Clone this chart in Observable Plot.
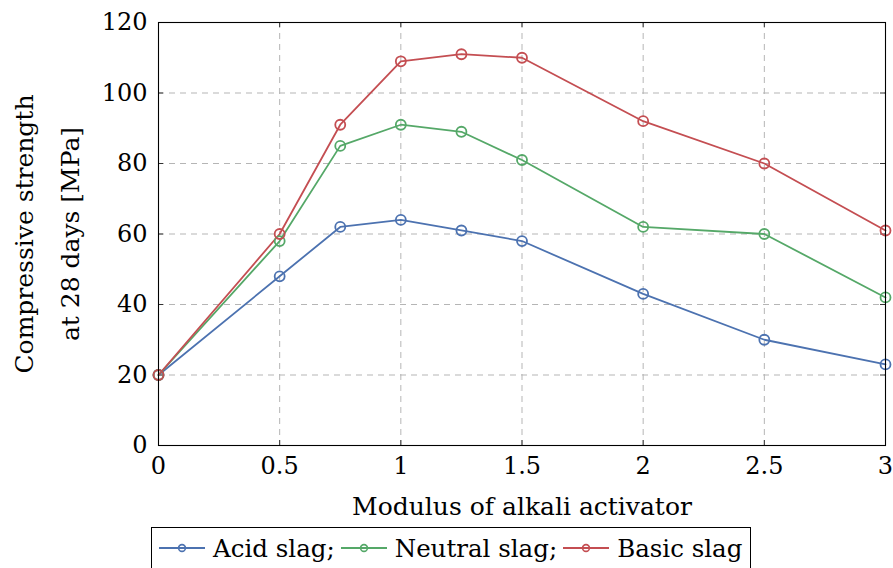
<!DOCTYPE html>
<html>
<head>
<meta charset="utf-8">
<script src="https://cdn.jsdelivr.net/npm/d3@7"></script>
<script src="https://cdn.jsdelivr.net/npm/@observablehq/plot@0.6"></script>
<style>
  html, body { margin: 0; padding: 0; background: #fff; }
  #chart svg { display: block; }
  .legend {
    position: absolute; left: 151px; top: 527px;
    border: 1px solid #000; height: 48px; box-sizing: border-box;
    display: flex; align-items: center; padding: 0 8px 6px 7px;
    font-family: "DejaVu Serif", serif; font-size: 24.5px; color: #000;
    background: #fff;
  }
  .legend .item { display: flex; align-items: center; margin-right: 6px; }
  .legend .item:last-child { margin-right: 0; }
  .legend svg { margin-right: 8px; }
</style>
</head>
<body>
<div id="chart"></div>
<script>
// Modulus of the alkali activator (x) and 28-day compressive strength in MPa
const modulus = [0, 0.5, 0.75, 1, 1.25, 1.5, 2, 2.5, 3];
const acidSlag = [20, 48, 62, 64, 61, 58, 43, 30, 23];
const neutralSlag = [20, 58, 85, 91, 89, 81, 62, 60, 42];
const basicSlag = [20, 60, 91, 109, 111, 110, 92, 80, 61];

const seriesNames = ["Acid slag", "Neutral slag", "Basic slag"];
const seriesColors = ["#4c72b0", "#55a868", "#c44e52"];
const xTicks = [0, 0.5, 1, 1.5, 2, 2.5, 3];
const yTicks = [0, 20, 40, 60, 80, 100, 120];

const xLabel = "Modulus of alkali activator";
const yLabelLines = ["Compressive strength", "at 28 days [MPa]"];

const rows = [acidSlag, neutralSlag, basicSlag].flatMap((values, i) =>
  values.map((v, j) => ({series: seriesNames[i], x: modulus[j], y: v}))
);

const W = 893, H = 525;
const mT = 22, mB = 80, mL = 158, mR = 8;
const innerW = W - mL - mR, innerH = H - mT - mB;
const tick = 5;
const font = "DejaVu Serif, serif";
const fsTick = 24;
const fsLabel = 25;

const chart = Plot.plot({
  width: W, height: H,
  marginTop: mT, marginBottom: mB, marginLeft: mL, marginRight: mR,
  x: {domain: [0, 3]},
  y: {domain: [0, 120]},
  color: {domain: seriesNames, range: seriesColors},
  style: {fontFamily: font, fontSize: fsTick + "px", color: "#000", background: "#fff"},
  marks: [
    Plot.gridX(xTicks, {stroke: "#b5b5b5", strokeOpacity: 1, strokeWidth: 1, strokeDasharray: "6,5"}),
    Plot.gridY(yTicks, {stroke: "#b5b5b5", strokeOpacity: 1, strokeWidth: 1, strokeDasharray: "6,5"}),
    // inward tick marks on all four sides
    Plot.ruleX(xTicks, {stroke: "#333", insetTop: innerH - tick}),
    Plot.ruleX(xTicks, {stroke: "#333", insetBottom: innerH - tick}),
    Plot.ruleY(yTicks, {stroke: "#333", insetRight: innerW - tick}),
    Plot.ruleY(yTicks, {stroke: "#333", insetLeft: innerW - tick}),
    Plot.line(rows, {x: "x", y: "y", z: "series", stroke: "series", strokeWidth: 1.8}),
    Plot.dot(rows, {x: "x", y: "y", stroke: "series", r: 5, strokeWidth: 1.8, fill: "none"}),
    Plot.frame({stroke: "#000", strokeWidth: 1.1}),
    Plot.axisX(xTicks, {tickSize: 0, tickPadding: 11, fontSize: fsTick, fontFamily: font, label: null, tickFormat: d => String(d)}),
    Plot.axisY(yTicks, {tickSize: 0, tickPadding: 11, fontSize: fsTick, fontFamily: font, label: null, tickFormat: d => String(d)}),
    Plot.text([xLabel], {frameAnchor: "bottom", dy: 61, fontSize: fsLabel, fontFamily: font, textAnchor: "middle", lineAnchor: "middle"}),
    Plot.text([yLabelLines[0]], {frameAnchor: "left", dx: -134, rotate: -90, fontSize: fsLabel, fontFamily: font, textAnchor: "middle", lineAnchor: "middle"}),
    Plot.text([yLabelLines[1]], {frameAnchor: "left", dx: -88, rotate: -90, fontSize: fsLabel, fontFamily: font, textAnchor: "middle", lineAnchor: "middle"})
  ]
});
document.getElementById("chart").appendChild(chart);

// legend below the chart
const legend = d3.select("body").append("div").attr("class", "legend");
seriesNames.forEach((name, i) => {
  const item = legend.append("div").attr("class", "item");
  const sw = item.append("svg").attr("width", 46).attr("height", 12);
  sw.append("line").attr("x1", 0).attr("x2", 46).attr("y1", 6).attr("y2", 6)
    .attr("stroke", seriesColors[i]).attr("stroke-width", 1.8);
  sw.append("circle").attr("cx", 23).attr("cy", 6).attr("r", 3.4)
    .attr("fill", "none").attr("stroke", seriesColors[i]).attr("stroke-width", 1.6);
  item.append("span").text(name + (i < seriesNames.length - 1 ? ";" : ""));
});
</script>
</body>
</html>
